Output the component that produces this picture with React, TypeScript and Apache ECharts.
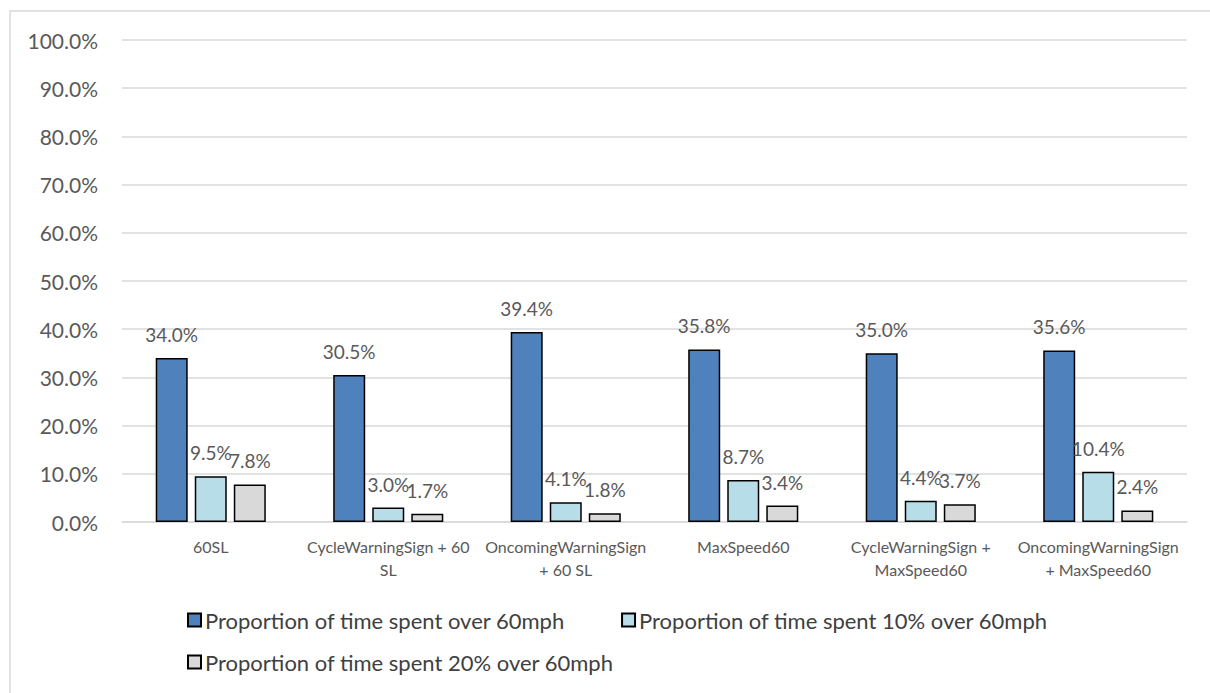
import React, { useEffect, useRef } from "react";
import * as echarts from "echarts";

const categories = [
  "60SL",
  "CycleWarningSign + 60\nSL",
  "OncomingWarningSign\n+ 60 SL",
  "MaxSpeed60",
  "CycleWarningSign +\nMaxSpeed60",
  "OncomingWarningSign\n+ MaxSpeed60",
];
const seriesNames = [
  "Proportion of time spent over 60mph",
  "Proportion of time spent 10% over 60mph",
  "Proportion of time spent 20% over 60mph",
];
const over60 = [34.0, 30.5, 39.4, 35.8, 35.0, 35.6];
const over10pct = [9.5, 3.0, 4.1, 8.7, 4.4, 10.4];
const over20pct = [7.8, 1.7, 1.8, 3.4, 3.7, 2.4];
const yTicks = [0, 10, 20, 30, 40, 50, 60, 70, 80, 90, 100];

const colors = ["#4F81BD", "#B7DEE8", "#D9D9D9"];
const FONT = "Lato, 'Open Sans', sans-serif";

export default function App() {
  const ref = useRef<HTMLDivElement>(null);
  useEffect(() => {
    if (!ref.current) return;
    const chart = echarts.init(ref.current, undefined, { renderer: "svg" });
    const values = [over60, over10pct, over20pct];
    const legendText = { fontFamily: FONT, fontSize: 22, color: "#404040", padding: [0, 0, 0, -1] };
    chart.setOption({
      animation: false,
      backgroundColor: "#ffffff",
      textStyle: { fontFamily: FONT },
      graphic: [
        {
          type: "rect",
          shape: { x: 10, y: 11, width: 1220, height: 700 },
          style: { fill: "none", stroke: "#D9D9D9", lineWidth: 1.5 },
          silent: true,
        },
      ],
      grid: { left: 122, right: 23, top: 40, bottom: 171, containLabel: false },
      legend: [
        {
          data: [seriesNames[0], seriesNames[1]],
          left: 182,
          top: 604,
          itemWidth: 13,
          itemHeight: 13,
          itemGap: 56,
          icon: "rect",
          textStyle: legendText,
        },
        {
          data: [seriesNames[2]],
          left: 182,
          top: 646,
          itemWidth: 13,
          itemHeight: 13,
          icon: "rect",
          textStyle: legendText,
        },
      ],
      xAxis: {
        type: "category",
        data: categories,
        axisLine: { lineStyle: { color: "#D9D9D9", width: 1.5 } },
        axisTick: { show: false },
        axisLabel: {
          fontFamily: FONT,
          fontSize: 16,
          color: "#595959",
          margin: 13,
          lineHeight: 23,
          interval: 0,
        },
      },
      yAxis: {
        type: "value",
        min: yTicks[0],
        max: yTicks[yTicks.length - 1],
        interval: 10,
        axisLine: { show: false },
        axisTick: { show: false },
        splitLine: { lineStyle: { color: "#D9D9D9", width: 1.5 } },
        axisLabel: {
          fontFamily: FONT,
          fontSize: 21,
          color: "#595959",
          margin: 24,
          formatter: (v: number) => v.toFixed(1) + "%",
        },
      },
      series: seriesNames.map((name, i) => ({
        name,
        type: "bar",
        data: values[i],
        barWidth: 32,
        barGap: "22%",
        itemStyle: { color: colors[i], borderColor: "#000000", borderWidth: 1.5 },
        label: {
          show: true,
          position: "top",
          distance: 14,
          fontFamily: FONT,
          fontSize: 19,
          color: "#595959",
          formatter: (p: any) => Number(p.value).toFixed(1) + "%",
        },
      })),
    });
    return () => chart.dispose();
  }, []);
  return (
    <div
      ref={ref}
      style={{ position: "fixed", left: 0, top: 0, width: 1210, height: 693 }}
    />
  );
}
